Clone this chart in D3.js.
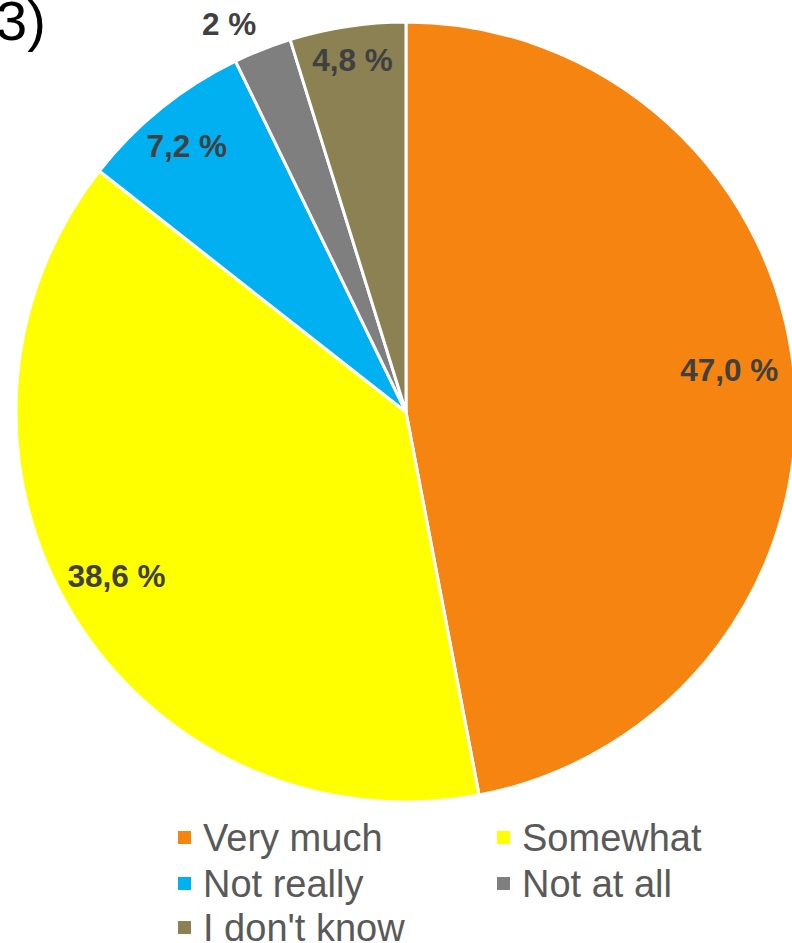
<!DOCTYPE html>
<html>
<head>
<meta charset="utf-8">
<script src="https://cdn.jsdelivr.net/npm/d3@7"></script>
<style>
  html, body { margin: 0; padding: 0; background: #ffffff; }
  svg { display: block; }
</style>
</head>
<body>
<svg id="chart" width="792" height="943"></svg>
<script>
// ---- data ----
const categories = ["Very much", "Somewhat", "Not really", "Not at all", "I don't know"];
const values = [47.0, 38.6, 7.2, 2.4, 4.8];
const valueLabels = ["47,0 %", "38,6 %", "7,2 %", "2 %", "4,8 %"];
const colors = ["#F58411", "#FFFF00", "#00B0F0", "#7F7F7F", "#8B8152"];

// ---- layout (styling, not data) ----
const cx = 406, cy = 412, R = 390;
const labelRadius = [0.835, 0.854, 0.883, 1.092, 0.912];
const labelShift = [[-1, -11], [-5, -9], [-3, 2], [-20, 8], [0, 0]];

const svg = d3.select("#chart");

// panel tag
svg.append("text")
  .attr("x", -4).attr("y", 40)
  .attr("font-family", "Liberation Sans, Arial, sans-serif")
  .attr("font-size", 56)
  .attr("fill", "#000")
  .text("3)");

const pie = d3.pie().sort(null).value(d => d.value);
const data = categories.map((c, i) => ({ cat: c, value: values[i], label: valueLabels[i], color: colors[i], lr: labelRadius[i], ls: labelShift[i] }));
const arcs = pie(data);
const arc = d3.arc().innerRadius(0).outerRadius(R);

const g = svg.append("g").attr("transform", `translate(${cx},${cy})`);

g.selectAll("path.slice")
  .data(arcs)
  .enter().append("path")
  .attr("class", "slice")
  .attr("d", arc)
  .attr("fill", d => d.data.color)
  .attr("stroke", "#ffffff")
  .attr("stroke-width", 3)
  .attr("stroke-linejoin", "round");

g.selectAll("text.lbl")
  .data(arcs)
  .enter().append("text")
  .attr("class", "lbl")
  .attr("transform", d => {
    const a = (d.startAngle + d.endAngle) / 2;
    const r = R * d.data.lr;
    return `translate(${r * Math.sin(a) + d.data.ls[0]},${-r * Math.cos(a) + d.data.ls[1]})`;
  })
  .attr("text-anchor", "middle")
  .attr("dominant-baseline", "central")
  .attr("font-family", "Liberation Sans, Arial, sans-serif")
  .attr("font-weight", "bold")
  .attr("font-size", 31.5)
  .attr("fill", "#404040")
  .text(d => d.data.label);

// legend
const legendCols = [178, 497];
const legendRows = [838, 884, 928];
const legend = svg.append("g");
const items = legend.selectAll("g.item")
  .data(data)
  .enter().append("g")
  .attr("class", "item")
  .attr("transform", (d, i) => `translate(${legendCols[i % 2]},${legendRows[Math.floor(i / 2)]})`);

items.append("rect")
  .attr("x", 0).attr("y", -7)
  .attr("width", 13).attr("height", 13)
  .attr("fill", d => d.color);

items.append("text")
  .attr("x", 25).attr("y", 0)
  .attr("dominant-baseline", "central")
  .attr("font-family", "Liberation Sans, Arial, sans-serif")
  .attr("font-size", 38)
  .attr("fill", "#595959")
  .text(d => d.cat);
</script>
</body>
</html>
